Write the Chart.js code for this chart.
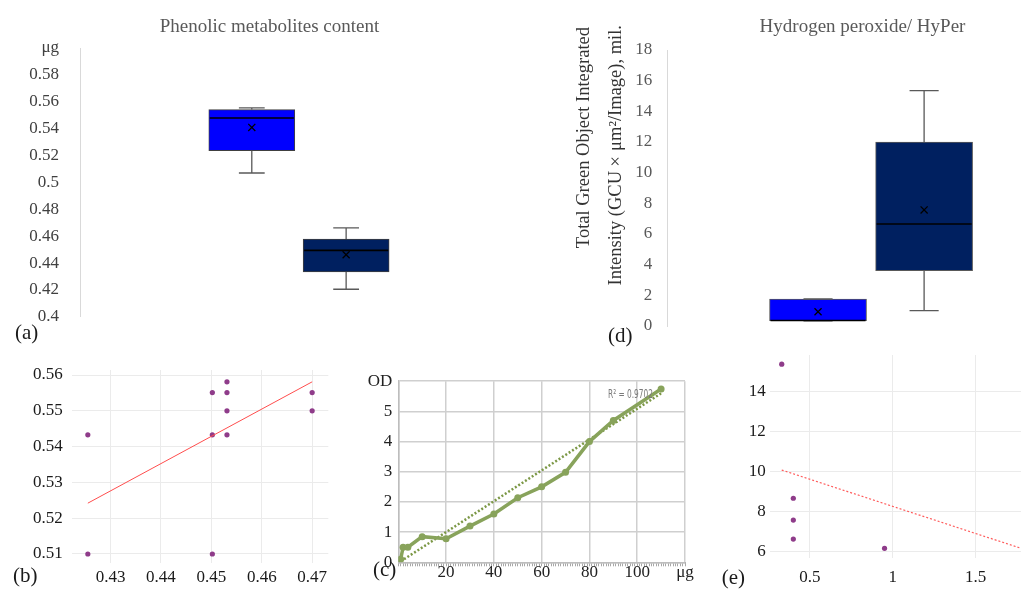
<!DOCTYPE html>
<html><head><meta charset="utf-8">
<title>Phenolic metabolites and hydrogen peroxide</title>
<script src="https://cdn.jsdelivr.net/npm/chart.js@4.4.1/dist/chart.umd.min.js"></script>
<style>
html,body{margin:0;padding:0;background:#fff;}
body{position:relative;width:1021px;height:591px;overflow:hidden;}
canvas{position:absolute;}
.txt{position:absolute;font-family:"Liberation Serif","Times New Roman",serif;white-space:nowrap;line-height:1;}
.title{font-size:19px;color:#595959;transform:translateX(-50%);}
.plab{font-size:21px;color:#1a1a1a;}
.vt{font-size:18.5px;color:#333;writing-mode:vertical-rl;transform:rotate(180deg);}
#r2{font-family:"Liberation Sans Narrow","DejaVu Sans Condensed","DejaVu Sans",sans-serif;font-size:12px;color:#7a7a7a;transform-origin:0 0;}
</style></head>
<body>
<canvas id="chartA" width="470" height="340" style="left:0;top:0"></canvas>
<canvas id="chartD" width="441" height="345" style="left:580px;top:0"></canvas>
<canvas id="chartB" width="340" height="251" style="left:0;top:340px"></canvas>
<canvas id="chartC" width="350" height="226" style="left:350px;top:365px"></canvas>
<canvas id="chartE" width="340" height="251" style="left:700px;top:340px"></canvas>

<div class="txt title" style="left:269.5px;top:15.8px">Phenolic metabolites content</div>
<div class="txt title" style="left:862.5px;top:16px">Hydrogen peroxide/ HyPer</div>
<div class="txt vt" style="left:574px;top:27px">Total Green Object Integrated</div>
<div class="txt vt" style="left:606px;top:25px">Intensity (GCU×μm²/Image), mil.</div>
<div class="txt plab" style="left:15px;top:322px">(a)</div>
<div class="txt plab" style="left:608px;top:325.4px">(d)</div>
<div class="txt plab" style="left:13px;top:565.4px">(b)</div>
<div class="txt plab" style="left:373px;top:559px">(c)</div>
<div class="txt plab" style="left:721.7px;top:567.4px">(e)</div>
<div class="txt" id="r2" style="left:608px;top:388px">R² = 0.9702</div>

<script>
// ---------------- DATA ----------------
// (a) Phenolic metabolites content, box plot statistics per group
const boxGroups      = ['Group 1', 'Group 2'];
const boxSlots       = [1, 2];
const phenolicMin    = [0.507, 0.4205];
const phenolicQ1     = [0.5236, 0.4333];
const phenolicMedian = [0.5479, 0.4494];
const phenolicQ3     = [0.5542, 0.4578];
const phenolicMax    = [0.5555, 0.4662];
const phenolicMean   = [0.5409, 0.4462];
const phenolicUnit   = 'μg';

// (d) Hydrogen peroxide / HyPer, box plot statistics per group
const hyperMin    = [0.33, 1.0];
const hyperQ1     = [0.35, 3.61];
const hyperMedian = [0.36, 6.65];
const hyperQ3     = [1.76, 12.0];
const hyperMax    = [1.76, 15.35];
const hyperMean   = [0.93, 7.57];

// (b) correlation scatter with fitted line
const corrPhenolicX = [0.4255, 0.4255, 0.4502, 0.4502, 0.4502, 0.4531, 0.4531, 0.4531, 0.4531, 0.47, 0.47];
const corrPhenolicY = [0.5433, 0.51, 0.5551, 0.5433, 0.51, 0.5581, 0.5551, 0.55, 0.5433, 0.5551, 0.55];
const fitPhenolicX  = [0.4255, 0.47];
const fitPhenolicY  = [0.5242, 0.5581];

// (c) calibration curve
const calibUg  = [1, 2, 4, 10, 20, 30, 40, 50, 60, 70, 80, 90, 110];
const calibOD  = [0.1, 0.5, 0.5, 0.85, 0.78, 1.2, 1.6, 2.14, 2.5, 2.98, 4.0, 4.7, 5.74];
const trendUg  = [1, 110];
const trendOD  = [0.03, 5.6];
const calibXUnit = 'μg';
const calibYUnit = 'OD';

// (e) correlation scatter with fitted line
const corrHyperX = [0.33, 0.4, 0.4, 0.4, 0.95];
const corrHyperY = [15.37, 8.67, 7.58, 6.63, 6.17];
const fitHyperX  = [0.33, 1.78];
const fitHyperY  = [10.08, 6.15];

// ---------------- HELPERS ----------------
Chart.defaults.font.family = "'Liberation Serif','Times New Roman',serif";
Chart.defaults.font.size = 17;
Chart.defaults.color = '#222';
Chart.defaults.animation = false;
Chart.defaults.events = [];
Chart.defaults.plugins.legend.display = false;
Chart.defaults.plugins.tooltip.enabled = false;

const fmt = v => String(+Number(v).toFixed(3));
const restoreBounds = s => { s.min = s.options.min; s.max = s.options.max; };
const pts = (xs, ys) => xs.map((x, i) => ({x: x, y: ys[i]}));

function makeBoxPlugin(stats, style) {
  return {
    id: 'boxWhiskers',
    afterDatasetsDraw(chart) {
      const ctx = chart.ctx, xs = chart.scales.x, ys = chart.scales.y;
      ctx.save();
      stats.pos.forEach((p, i) => {
        const cx = xs.getPixelForValue(p);
        const half = style.boxWidth / 2, cap = style.capWidth / 2;
        const yMin = ys.getPixelForValue(stats.min[i]);
        const yQ1 = ys.getPixelForValue(stats.q1[i]);
        const yMed = ys.getPixelForValue(stats.med[i]);
        const yQ3 = ys.getPixelForValue(stats.q3[i]);
        const yMax = ys.getPixelForValue(stats.max[i]);
        ctx.strokeStyle = style.whiskerColor;
        ctx.lineWidth = 1.3;
        ctx.beginPath();
        ctx.moveTo(cx, yMax); ctx.lineTo(cx, yQ3);
        ctx.moveTo(cx, yQ1); ctx.lineTo(cx, yMin);
        ctx.moveTo(cx - cap, yMax); ctx.lineTo(cx + cap, yMax);
        ctx.moveTo(cx - cap, yMin); ctx.lineTo(cx + cap, yMin);
        ctx.stroke();
        ctx.strokeStyle = '#000';
        ctx.lineWidth = 1.6;
        ctx.beginPath();
        ctx.moveTo(cx - half + 1, yMed); ctx.lineTo(cx + half - 1, yMed);
        ctx.stroke();
      });
      ctx.restore();
    }
  };
}

function boxChart(id, st, cfg) {
  return new Chart(document.getElementById(id), {
    type: 'bar',
    data: {
      labels: boxGroups,
      datasets: [
        { type: 'scatter', data: pts(st.pos, st.mean), pointStyle: 'crossRot', pointRadius: 5,
          borderColor: '#000', backgroundColor: '#000', borderWidth: 1.3 },
        { type: 'bar', data: st.pos.map((p, i) => ({x: p, y: [st.q1[i], st.q3[i]]})),
          backgroundColor: ['#0000FF', '#002060'], borderColor: cfg.boxBorder, borderWidth: 1,
          borderSkipped: false, barThickness: cfg.boxWidth }
      ]
    },
    options: {
      responsive: false, devicePixelRatio: 1,
      layout: { padding: cfg.padding },
      scales: {
        x: { type: 'linear', display: false, min: cfg.xMin, max: cfg.xMax, offset: false },
        y: { type: 'linear', min: cfg.yMin, max: cfg.yMax, beginAtZero: false,
             ticks: { stepSize: cfg.step, padding: cfg.tickPad, color: cfg.tickColor,
                      callback: cfg.tickCb },
             grid: { display: false },
             border: { display: true, color: '#d9d9d9', width: 1 },
             afterFit: s => { s.width = cfg.axisWidth; } }
      }
    },
    plugins: [makeBoxPlugin(st, { boxWidth: cfg.boxWidth, capWidth: cfg.boxWidth * 0.3, whiskerColor: '#595959' })]
  });
}

// ---------------- (a) ----------------
boxChart('chartA',
  { pos: boxSlots, min: phenolicMin, q1: phenolicQ1, med: phenolicMedian, q3: phenolicQ3, max: phenolicMax, mean: phenolicMean },
  { padding: {top: 48, bottom: 22.5, left: 0, right: 10}, xMin: -0.821, xMax: 3.207,
    yMin: 0.4, yMax: 0.6, step: 0.02, tickPad: 13, tickColor: '#404040', axisWidth: 80, boxWidth: 86,
    boxBorder: '#404040',
    tickCb: v => Math.abs(v - 0.6) < 1e-9 ? phenolicUnit : fmt(v) });

// ---------------- (d) ----------------
boxChart('chartD',
  { pos: boxSlots, min: hyperMin, q1: hyperQ1, med: hyperMedian, q3: hyperQ3, max: hyperMax, mean: hyperMean },
  { padding: {top: 50, bottom: 19, left: 0, right: 0}, xMin: -0.421, xMax: 2.854,
    yMin: 0, yMax: 18, step: 2, tickPad: 7, tickColor: '#595959', axisWidth: 87.3, boxWidth: 97,
    boxBorder: '#595959',
    tickCb: v => fmt(v) });

// ---------------- scatter panels (b) & (e) ----------------
function scatterChart(id, cfg) {
  return new Chart(document.getElementById(id), {
    type: 'scatter',
    data: {
      datasets: [
        { type: 'line', data: pts(cfg.fitX, cfg.fitY), borderColor: cfg.lineColor, borderWidth: cfg.lineWidth,
          borderDash: cfg.dash, pointRadius: 0, fill: false, tension: 0 },
        { data: pts(cfg.x, cfg.y), pointRadius: 2.6, backgroundColor: '#8F3C8A', borderWidth: 0 }
      ]
    },
    options: {
      responsive: false, devicePixelRatio: 1,
      layout: { padding: cfg.padding },
      scales: {
        x: { type: 'linear', min: cfg.xMin, max: cfg.xMax,
             ticks: { stepSize: cfg.xStep, includeBounds: false, padding: cfg.xPad, color: '#1a1a1a', callback: v => fmt(v) },
             grid: { color: '#ebebeb', lineWidth: 1, drawTicks: false }, border: { display: false },
             afterBuildTicks: restoreBounds,
             afterFit: s => { s.height = cfg.xHeight; } },
        y: { type: 'linear', min: cfg.yMin, max: cfg.yMax,
             ticks: { stepSize: cfg.yStep, includeBounds: false, padding: cfg.yPad, color: '#1a1a1a', callback: v => fmt(v) },
             grid: { color: '#ebebeb', lineWidth: 1, drawTicks: false }, border: { display: false },
             afterBuildTicks: restoreBounds,
             afterFit: s => { s.width = cfg.yWidth; } }
      }
    }
  });
}

scatterChart('chartB', {
  x: corrPhenolicX, y: corrPhenolicY, fitX: fitPhenolicX, fitY: fitPhenolicY,
  lineColor: '#FF4D4D', lineWidth: 1, dash: [],
  padding: {top: 30, right: 11.7, bottom: 0, left: 0},
  xMin: 0.4223, xMax: 0.4732, xStep: 0.01, xPad: 4.5, xHeight: 27.7,
  yMin: 0.5074, yMax: 0.5614, yStep: 0.01, yPad: 9, yWidth: 71.7
});

scatterChart('chartE', {
  x: corrHyperX, y: corrHyperY, fitX: fitHyperX, fitY: fitHyperY,
  lineColor: '#FF5C5C', lineWidth: 1.2, dash: [2, 2],
  padding: {top: 15, right: 5.8, bottom: 0, left: 0},
  xMin: 0.2575, xMax: 1.8525, xStep: 0.5, xPad: 10.3, xHeight: 33.5,
  yMin: 5.71, yMax: 15.83, yStep: 2, yPad: 4, yWidth: 69.7
});

// ---------------- (c) ----------------
new Chart(document.getElementById('chartC'), {
  type: 'line',
  data: {
    datasets: [
      { data: pts(calibUg, calibOD), borderColor: '#88A35B', backgroundColor: '#88A35B', borderWidth: 3.5,
        pointRadius: 3.5, pointBorderWidth: 0, tension: 0 },
      { data: pts(trendUg, trendOD), borderColor: '#7C9846', borderWidth: 2.5, borderDash: [2, 2],
        pointRadius: 0, tension: 0 }
    ]
  },
  options: {
    responsive: false, devicePixelRatio: 1,
    layout: { padding: {top: 12, right: 15, bottom: 0, left: 0} },
    scales: {
      x: { type: 'linear', position: 'bottom', weight: 1, min: 0, max: 120,
           ticks: { stepSize: 20, padding: 0, color: '#222',
                    callback: v => v === 0 ? '' : (v === 120 ? calibXUnit : fmt(v)) },
           grid: { color: '#cfcfcf', lineWidth: 1.5, drawTicks: false },
           border: { color: '#bdbdbd', width: 1.5 },
           afterFit: s => { s.height = 28.7; } },
      xMinor: { type: 'linear', position: 'bottom', weight: 0, min: 0, max: 120,
           ticks: { stepSize: 1, display: false },
           grid: { drawOnChartArea: false, drawTicks: true, tickLength: 4, color: '#a8a8a8', lineWidth: 1 },
           border: { display: false },
           afterFit: s => { s.height = 0; } },
      y: { type: 'linear', min: 0, max: 6,
           ticks: { stepSize: 1, padding: 6, color: '#222',
                    callback: v => v === 6 ? calibYUnit : fmt(v) },
           grid: { color: '#cfcfcf', lineWidth: 1.5, drawTicks: false },
           border: { color: '#bdbdbd', width: 1.5 },
           afterFit: s => { s.width = 48.3; } }
    }
  }
});

// fit R² label width
(function () {
  const r2 = document.getElementById('r2');
  const w = r2.getBoundingClientRect().width;
  if (w > 0) r2.style.transform = 'scaleX(' + (45 / w) + ')';
})();
</script>
</body></html>
